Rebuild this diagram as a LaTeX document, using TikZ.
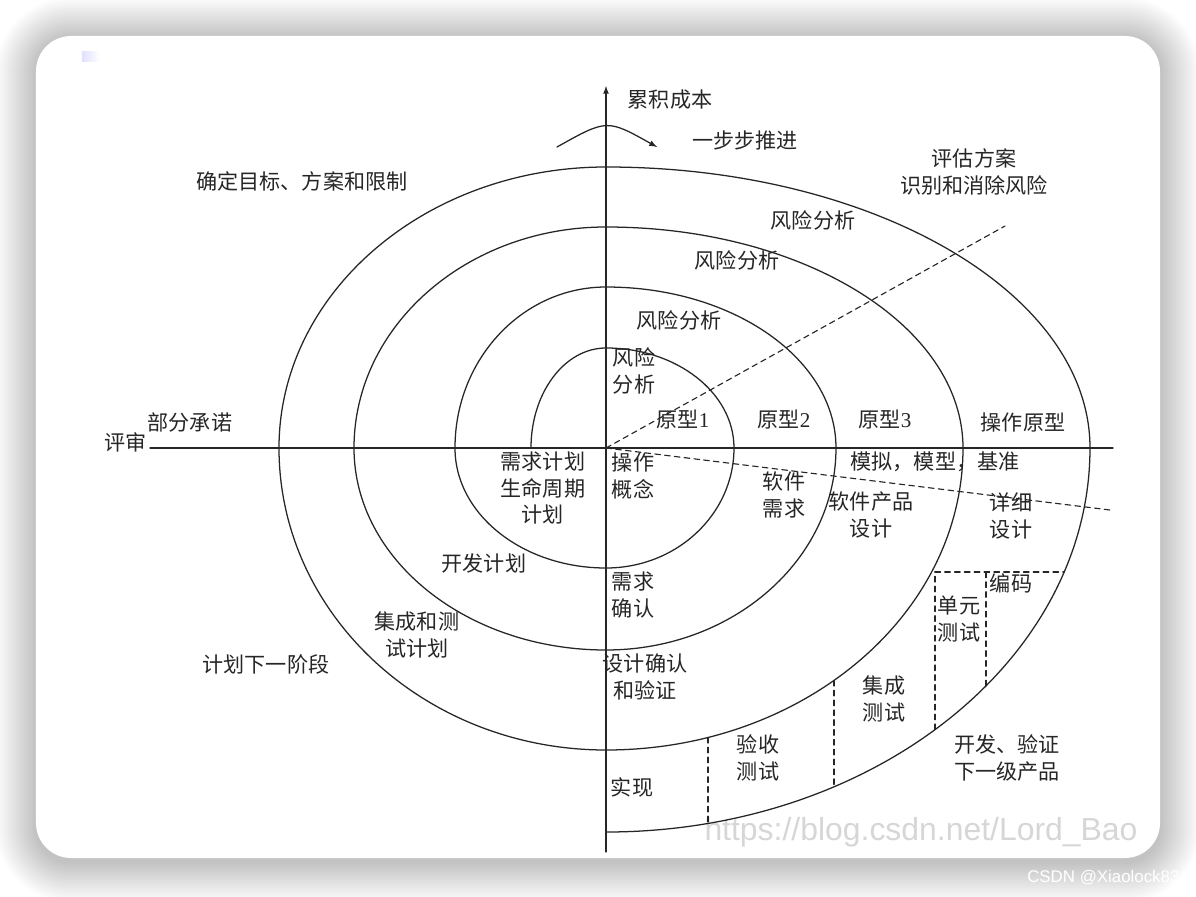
\documentclass[tikz,border=0pt]{standalone}
\usepackage{fontspec}
\setmainfont{Liberation Serif}
\newfontfamily\cjk{Noto Sans CJK SC}
\newfontfamily\wmfont{Liberation Sans}
\usepackage{tikz}
\tikzset{>=latex}
\usepackage{xcolor}
\colorlet{inkgray}{black!85}
\colorlet{markblue}{blue!12}

\begin{document}
\begin{tikzpicture}[x=0.025cm, y=0.025cm, % 1 unit = 1 pixel of the reference
                    line cap=round, line join=round,
                    axis/.style={inkgray, line width=0.9pt},
                    spiral/.style={inkgray, line width=0.9pt},
                    guide/.style={inkgray, line width=0.8pt, dash pattern=on 4pt off 3pt},
                    lbl/.style={font=\cjk\fontsize{15}{19}\selectfont, text=inkgray, align=center, inner sep=0pt}]
  \useasboundingbox (-606,-448) rectangle (590,448);
  \clip (-606,-448) rectangle (590,448);
  \def\rThree{357} % right radius, 3rd turn
  \def\bThree{302} % bottom radius, 3rd turn
  \def\rFour{484}  % right radius, outer turn
  \def\bFour{384}  % bottom radius, outer turn

% card with a soft shadow
  \fill[white] (-606,-448) rectangle (590,448);
  \foreach \s [evaluate={\rc=25+0.7*\s;}] in {40,38,...,2}
    \fill[black, opacity=0.011, rounded corners=\rc pt] (-570-\s,-414-\s) rectangle (554+\s,410+\s);
  \fill[white, rounded corners=25pt] (-570,-410) rectangle (554,412);
  \shade[left color=markblue, right color=white] (-524,396) rectangle (-506,386);

% the spiral, one quarter ellipse per quadrant
  \draw[spiral] (-75,0)
    \foreach \l/\t/\r/\b/\n in {75/100/128/120/151, 151/161/230/202/252, 252/221/\rThree/\bThree/327}{
      arc[start angle=180, end angle=90, x radius=\l, y radius=\t]
      arc[start angle=90, end angle=0, x radius=\r, y radius=\t]
      arc[start angle=0, end angle=-90, x radius=\r, y radius=\b]
      arc[start angle=270, end angle=180, x radius=\n, y radius=\b]
    }
    arc[start angle=180, end angle=90, x radius=327, y radius=281]
    arc[start angle=90, end angle=0, x radius=\rFour, y radius=281]
    arc[start angle=0, end angle=-90, x radius=\rFour, y radius=\bFour];

% axes
  \coordinate (o) at (0,0);
  \coordinate (yTop) at (0,362);
  \coordinate (yBot) at (0,-404);
  \coordinate (xLeft) at (-456,0);
  \coordinate (xRight) at (507,0);
  \draw[axis,->] (yBot) -- (yTop);
  \draw[axis] (xLeft) -- (xRight);

% turning arrow
  \coordinate (turnA) at (-49,301);
  \coordinate (turnB) at (51,301);
  \draw[axis,->] (turnA) .. controls (1,329) .. (turnB);

% dashed guides
  \coordinate (evalEnd) at (399,222);
  \coordinate (devEnd) at (504,-62);
  \draw[guide] (o) -- (evalEnd);
  \draw[guide] (o) -- (devEnd);

  \coordinate (boxTL) at (329,-124);
  \coordinate (boxTR) at ({\rFour*sqrt(1-(124/\bFour)^2)},-124);
  \coordinate (boxBL) at (329,{-\bFour*sqrt(1-(329/\rFour)^2)});
  \coordinate (boxMT) at (380,-124);
  \coordinate (boxMB) at (380,{-\bFour*sqrt(1-(380/\rFour)^2)});
  \draw[guide] (boxBL) -- (boxTL) -- (boxTR);
  \draw[guide] (boxMT) -- (boxMB);
  \foreach \x [count=\i] in {102,228}{
    \coordinate (tickTop\i) at (\x,{-\bThree*sqrt(1-(\x/\rThree)^2)});
    \coordinate (tickBot\i) at (\x,{-\bFour*sqrt(1-(\x/\rFour)^2)});
    \draw[guide] (tickTop\i) -- (tickBot\i);
  }

% labels
  \node[lbl] (cost)      at (64,348)    {累积成本};
  \node[lbl] (stepOn)    at (139,308)   {一步步推进};
  \node[lbl] (goals)     at (-304,267)  {确定目标、方案和限制};
  \node[lbl] (evalRisk)  at (368,276)   {评估方案\\识别和消除风险};
  \node[lbl] (riskFour)  at (207,228)   {风险分析};
  \node[lbl] (riskThree) at (131,188)   {风险分析};
  \node[lbl] (riskTwo)   at (73,128)    {风险分析};
  \node[lbl] (riskOne)   at (28,77)     {风险\\分析};
  \node[lbl] (commit)    at (-416,26)   {部分承诺};
  \node[lbl] (review)    at (-480,6)    {评审};
  \node[lbl] (protoOne)  at (77,28)     {原型\textrm{1}};
  \node[lbl] (protoTwo)  at (178,28)    {原型\textrm{2}};
  \node[lbl] (protoThree) at (279,28)   {原型\textrm{3}};
  \node[lbl] (protoOp)   at (417,26)    {操作原型};
  \node[lbl] (reqPlan)   at (-63,-40)   {需求计划\\生命周期\\计划};
  \node[lbl] (concept)   at (27,-28)    {操作\\概念};
  \node[lbl] (swReq)     at (178,-47)   {软件\\需求};
  \node[lbl] (bench)     at (329,-14)   {模拟，模型，基准};
  \node[lbl] (prodDesign) at (265,-67)  {软件产品\\设计};
  \node[lbl] (detDesign) at (405,-68)   {详细\\设计};
  \node[lbl] (devPlan)   at (-122,-115) {开发计划};
  \node[lbl] (reqCheck)  at (27,-147)   {需求\\确认};
  \node[lbl] (coding)    at (405,-135)  {编码};
  \node[lbl] (unitTest)  at (353,-171)  {单元\\测试};
  \node[lbl] (itPlan)    at (-189,-187) {集成和测\\试计划};
  \node[lbl] (nextPhase) at (-340,-216) {计划下一阶段};
  \node[lbl] (designVal) at (39,-229)   {设计确认\\和验证};
  \node[lbl] (intTest)   at (278,-251)  {集成\\测试};
  \node[lbl] (accTest)   at (152,-310)  {验收\\测试};
  \node[lbl] (devNext)   at (401,-310)  {开发、验证\\下一级产品};
  \node[lbl] (impl)      at (26,-339)   {实现};

% watermarks
  \node[font=\wmfont\fontsize{22.7}{24}\selectfont, text=black, text opacity=0.16, inner sep=0pt]
    (blogMark) at (315,-384) {https://blog.csdn.net/Lord\_Bao};
  \node[font=\wmfont\fontsize{12}{14}\selectfont, text=white, anchor=west, inner sep=0pt]
    (csdnMark) at (421,-430) {CSDN @Xiaolock83};
\end{tikzpicture}
\end{document}
